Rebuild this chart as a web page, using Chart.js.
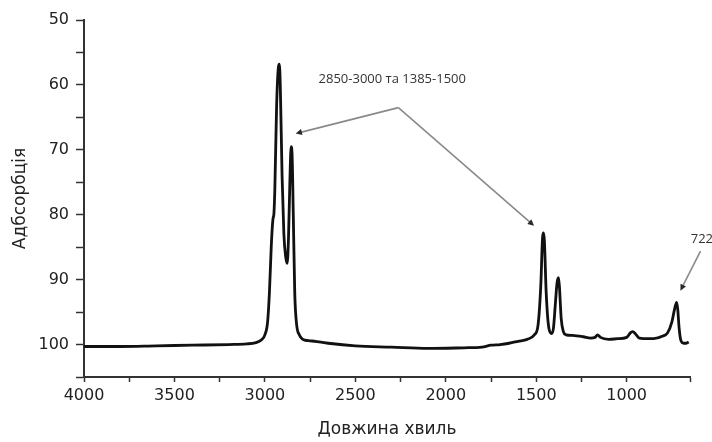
<!DOCTYPE html>
<html>
<head>
<meta charset="utf-8">
<script src="https://cdn.jsdelivr.net/npm/chart.js@4/dist/chart.umd.min.js"></script>
<style>
    html, body { margin: 0; padding: 0; background: #fff; }
    #wrap { width: 712px; height: 442px; }
</style>
</head>
<body>
<div id="wrap"><canvas id="spectrum" width="712" height="442"></canvas></div>
<script>
// Spectrum points (wavenumber, cm-1 -> absorbance reading)
const waveNumbers = [
    4000, 3800, 3600, 3400, 3200, 3100, 3050, 3020, 3000, 2985,
    2975, 2965, 2958, 2955, 2950, 2945, 2935, 2925, 2920, 2915,
    2905, 2895, 2885, 2877, 2870, 2862, 2855, 2850, 2843, 2835,
    2825, 2810, 2790, 2760, 2720, 2700, 2650, 2500, 2300, 2100,
    1900, 1800, 1750, 1700, 1650, 1600, 1550, 1510, 1490, 1475,
    1465, 1460, 1455, 1445, 1430, 1415, 1405, 1395, 1385, 1377,
    1372, 1362, 1350, 1335, 1300, 1240, 1200, 1175, 1161, 1145,
    1100, 1050, 1000, 980, 967, 950, 930, 880, 851, 800,
    774, 750, 735, 724, 718, 710, 700, 685, 670, 657
];
const absorbance = [
    100.3, 100.3, 100.2, 100.1, 100.0, 99.9, 99.7, 99.3, 98.5, 96.5,
    92.0, 85.0, 81.5, 80.6, 79.8, 76.0, 63.0, 57.2, 56.8, 60.0,
    74.0, 83.0, 86.5, 87.5, 84.0, 75.0, 69.5, 70.5, 80.0, 92.0,
    96.8, 98.5, 99.2, 99.4, 99.5, 99.6, 99.8, 100.2, 100.4, 100.6,
    100.5, 100.4, 100.1, 100.0, 99.8, 99.5, 99.2, 98.5, 97.0, 91.0,
    83.5, 82.8, 84.0, 92.0, 97.5, 98.3, 97.5, 94.0, 90.5, 89.7,
    91.0, 96.0, 98.0, 98.5, 98.6, 98.8, 99.0, 98.9, 98.5, 98.9,
    99.2, 99.1, 98.9, 98.2, 98.0, 98.4, 99.0, 99.1, 99.1, 98.7,
    98.2, 96.5, 94.5, 93.5, 94.5, 97.5, 99.4, 99.8, 99.8, 99.6
];

// Axis ranges and labelled ticks
const xMin = 650, xMax = 4000, xStep = 250, xLabelEvery = 500;
const yMin = 50, yMax = 105, yStep = 5, yLabelEvery = 10;

// Callouts (in data units)
const noteText = ['2850-3000 та 1385-1500', '722'];
const noteX = [2296, 646];
const noteY = [59.2, 83.8];
const arrowFromX = [2262, 2262, 592];
const arrowFromY = [63.5, 63.5, 85.6];
const arrowToX = [2830, 1512, 703];
const arrowToY = [67.5, 81.7, 91.7];

const points = waveNumbers.map((w, i) => ({ x: w, y: absorbance[i] }));

const calloutPlugin = {
    id: 'callouts',
    afterDatasetsDraw(chart) {
        const { ctx, scales: { x, y } } = chart;
        ctx.save();
        ctx.strokeStyle = '#8a8a8a';
        ctx.fillStyle = '#2a2a2a';
        ctx.lineWidth = 1.6;
        for (let i = 0; i < arrowFromX.length; i++) {
            const x0 = x.getPixelForValue(arrowFromX[i]);
            const y0 = y.getPixelForValue(arrowFromY[i]);
            const x1 = x.getPixelForValue(arrowToX[i]);
            const y1 = y.getPixelForValue(arrowToY[i]);
            const a = Math.atan2(y1 - y0, x1 - x0);
            ctx.beginPath();
            ctx.moveTo(x0, y0);
            ctx.lineTo(x1 - Math.cos(a) * 4, y1 - Math.sin(a) * 4);
            ctx.stroke();
            // arrow head
            ctx.beginPath();
            ctx.moveTo(x1, y1);
            ctx.lineTo(x1 - Math.cos(a - 0.45) * 7, y1 - Math.sin(a - 0.45) * 7);
            ctx.lineTo(x1 - Math.cos(a + 0.45) * 7, y1 - Math.sin(a + 0.45) * 7);
            ctx.closePath();
            ctx.fill();
        }
        ctx.font = "13px 'Open Sans', sans-serif";
        ctx.fillStyle = '#333';
        ctx.textBaseline = 'middle';
        ctx.textAlign = 'center';
        ctx.fillText(noteText[0], x.getPixelForValue(noteX[0]), y.getPixelForValue(noteY[0]));
        ctx.textAlign = 'left';
        ctx.fillText(noteText[1], x.getPixelForValue(noteX[1]), y.getPixelForValue(noteY[1]));
        ctx.restore();
    }
};

const tickFont = { family: "'DejaVu Sans', sans-serif", size: 16 };
const titleFont = { family: "'DejaVu Sans', sans-serif", size: 17 };

new Chart(document.getElementById('spectrum').getContext('2d'), {
    type: 'line',
    data: {
        datasets: [{
            data: points,
            borderColor: '#111',
            borderWidth: 2.8,
            pointRadius: 0,
            fill: false,
            cubicInterpolationMode: 'monotone'
        }]
    },
    options: {
        responsive: false,
        animation: false,
        events: [],
        layout: { padding: { top: 20, right: 22, bottom: 0, left: 0 } },
        plugins: { legend: { display: false }, tooltip: { enabled: false } },
        scales: {
            x: {
                type: 'linear',
                reverse: true,
                min: xMin,
                max: xMax,
                afterFit: (s) => { s.height = 65; },
                border: { display: true, color: '#333', width: 2 },
                grid: { drawOnChartArea: false, drawTicks: true, tickLength: 5, tickColor: '#333', tickWidth: 1.5 },
                ticks: {
                    stepSize: xStep,
                    autoSkip: false,
                    maxRotation: 0,
                    padding: 4,
                    color: '#222',
                    font: tickFont,
                    callback: (v) => (v % xLabelEvery === 0 ? String(v) : '')
                },
                title: {
                    display: true,
                    text: 'Довжина хвиль',
                    color: '#222',
                    font: titleFont,
                    padding: { top: 0, bottom: 2 }
                }
            },
            y: {
                type: 'linear',
                reverse: true,
                min: yMin,
                max: yMax,
                afterFit: (s) => { s.width = 84; },
                border: { display: true, color: '#333', width: 2 },
                grid: { drawOnChartArea: false, drawTicks: true, tickLength: 8, tickColor: '#333', tickWidth: 1.5 },
                ticks: {
                    stepSize: yStep,
                    autoSkip: false,
                    padding: 7,
                    color: '#222',
                    font: tickFont,
                    callback: (v) => (v % yLabelEvery === 0 ? String(v) : '')
                },
                title: {
                    display: true,
                    text: 'Адбсорбція',
                    color: '#222',
                    font: titleFont,
                    padding: { top: 10, bottom: 0 }
                }
            }
        }
    },
    plugins: [calloutPlugin]
});
</script>
</body>
</html>
